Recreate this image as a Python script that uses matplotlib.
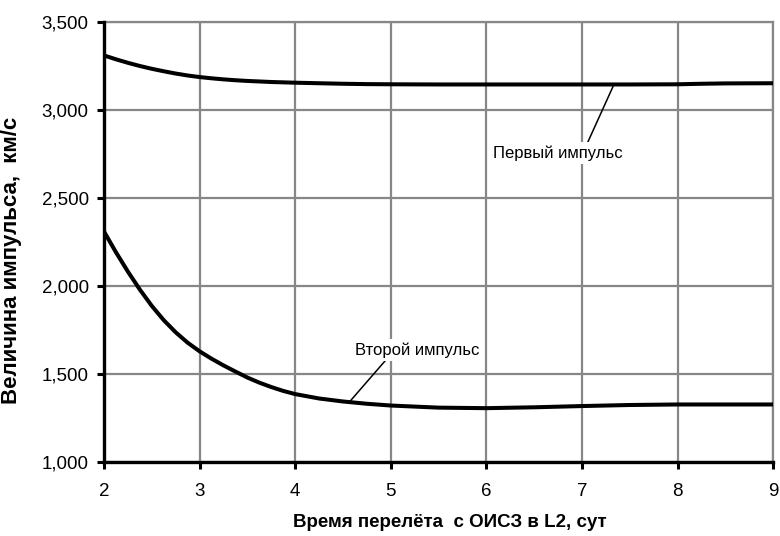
import matplotlib.pyplot as plt

plt.rcParams["font.family"] = ["Liberation Sans", "DejaVu Sans"]

# transfer time, days
days = [2.0, 2.125, 2.25, 2.375, 2.5, 2.625, 2.75, 2.875, 3.0, 3.125, 3.25,
        3.375, 3.5, 3.625, 3.75, 3.875, 4.0, 4.25, 4.5, 4.75, 5.0, 5.5,
        6.0, 6.5, 7.0, 7.5, 8.0, 8.25, 8.5, 9.0]
# first impulse, m/s
first_impulse = [3310, 3288, 3268, 3250, 3234, 3220, 3207, 3196, 3187, 3180,
                 3174, 3169, 3165, 3162, 3159, 3157, 3155, 3152, 3149, 3147,
                 3146, 3145, 3145, 3145, 3145, 3145, 3146, 3149, 3151, 3152]
# second impulse, m/s
second_impulse = [2310, 2192, 2082, 1980, 1887, 1806, 1737, 1678, 1629, 1587,
                  1549, 1514, 1480, 1451, 1426, 1404, 1386, 1361, 1344, 1331,
                  1321, 1309, 1306, 1311, 1318, 1324, 1327, 1327, 1327, 1327]

x_ticks = [2, 3, 4, 5, 6, 7, 8, 9]
y_ticks = [1000, 1500, 2000, 2500, 3000, 3500]
y_tick_labels = ["1,000", "1,500", "2,000", "2,500", "3,000", "3,500"]

fig = plt.figure(figsize=(7.8, 5.36), dpi=100)
ax = fig.add_axes([0.1333, 0.138, 0.858, 0.821])

ax.plot(days, first_impulse, color="black", lw=2.9, zorder=3)
ax.plot(days, second_impulse, color="black", lw=2.9, zorder=3)

ax.set_xlim(2, 9)
ax.set_ylim(1000, 3500)
ax.set_xticks(x_ticks)
ax.set_yticks(y_ticks)
ax.set_yticklabels(y_tick_labels)
ax.grid(True, color="#878787", lw=1.6)
ax.set_axisbelow(True)

for side in ("left", "bottom"):
    ax.spines[side].set_linewidth(2.4)
    ax.spines[side].set_color("black")
    ax.spines[side].set_zorder(4)
for side in ("top", "right"):
    ax.spines[side].set_linewidth(1.6)
    ax.spines[side].set_color("#878787")

ax.tick_params(axis="both", direction="out", length=5, width=2.2,
               labelsize=13.5, colors="black")
ax.tick_params(axis="x", pad=10)
ax.tick_params(axis="y", pad=6)

ax.set_xlabel("Время перелёта  с ОИСЗ в L2, сут", fontsize=13.5,
              fontweight="bold")
ax.xaxis.set_label_coords(0.517, -0.118)
ax.set_ylabel("Величина импульса,  км/с", fontsize=16, fontweight="bold")
ax.yaxis.set_label_coords(-0.122, 0.459)

box = dict(facecolor="white", edgecolor="none", pad=2)
ax.annotate("Первый импульс", xy=(7.33, 3140), xytext=(6.07, 2756),
            fontsize=12, va="center", ha="left", bbox=box,
            arrowprops=dict(arrowstyle="-", color="black", lw=1.1,
                            shrinkA=0, shrinkB=0,
                            relpos=(0.72, 1.0)), zorder=5)
ax.annotate("Второй импульс", xy=(4.57, 1343), xytext=(4.63, 1636),
            fontsize=12, va="center", ha="left", bbox=box,
            arrowprops=dict(arrowstyle="-", color="black", lw=1.1,
                            shrinkA=0, shrinkB=0,
                            relpos=(0.26, 0.0)), zorder=5)

fig.savefig("out.png", dpi=100)
